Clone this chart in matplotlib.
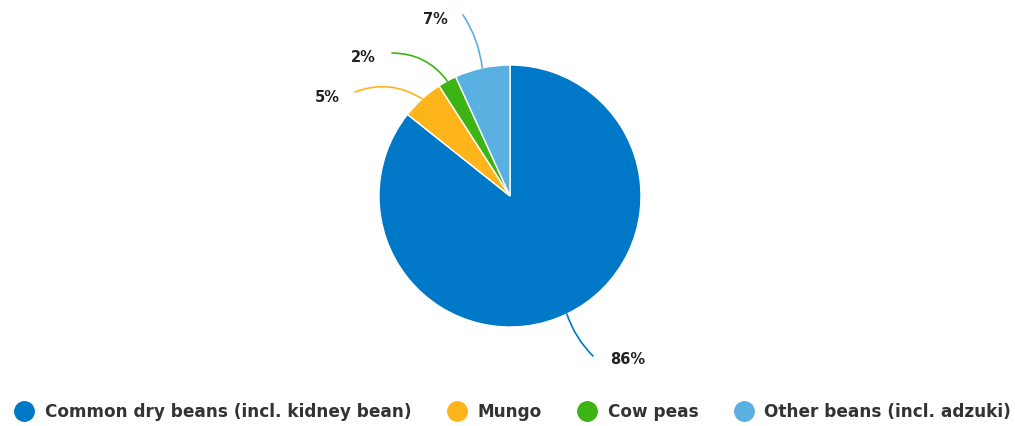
import numpy as np
import matplotlib.pyplot as plt
from matplotlib.lines import Line2D

# data
labels = ['Common dry beans (incl. kidney bean)', 'Mungo', 'Cow peas', 'Other beans (incl. adzuki)']
values = [85.7, 5.2, 2.3, 6.8]
pct_text = ['86%', '5%', '2%', '7%']
colors = ['#0078C8', '#FDB51B', '#3CB514', '#5AB0E0']

W, H = 1015, 426
fig = plt.figure(figsize=(W / 100, H / 100), dpi=100)
ax = fig.add_axes([0, 0, 1, 1])

cx, cy, r = 510, H - 196, 131
wedges, _ = ax.pie(values, colors=colors, startangle=90, counterclock=False,
                   center=(cx, cy), radius=r, frame=True,
                   wedgeprops=dict(edgecolor='white', linewidth=1))
ax.set_xlim(0, W)
ax.set_ylim(0, H)
ax.set_aspect('equal')
ax.axis('off')

# label layout (text centre, line end, curvature)
text_pos = [(628, H - 360), (327, H - 97), (363, H - 58), (435, H - 19)]
line_end = [(593, H - 356), (355, H - 92), (392, H - 53), (463, H - 15)]
rads = [-0.12, -0.25, -0.25, -0.12]

for w, t, tp, le, rad in zip(wedges, pct_text, text_pos, line_end, rads):
    ang = np.deg2rad((w.theta1 + w.theta2) / 2)
    anchor = (cx + r * np.cos(ang), cy + r * np.sin(ang))
    ax.annotate('', xy=anchor, xytext=le,
                arrowprops=dict(arrowstyle='-', color=w.get_facecolor(), lw=1.2,
                                shrinkA=0, shrinkB=0,
                                connectionstyle='arc3,rad=%s' % rad))
    ax.text(tp[0], tp[1], t, ha='center', va='center', fontsize=10.5,
            fontweight='bold', color='#222222')

handles = [Line2D([], [], marker='o', linestyle='', markersize=14,
                  markerfacecolor=c, markeredgecolor=c) for c in colors]
fig.legend(handles, labels, loc='lower center', ncol=4, frameon=False,
           bbox_to_anchor=(0.505, -0.025), handletextpad=0.6, columnspacing=2.1,
           handlelength=1.2, prop=dict(size=12.2, weight='bold'), labelcolor='#333333')

fig.savefig('out.png', dpi=100)
